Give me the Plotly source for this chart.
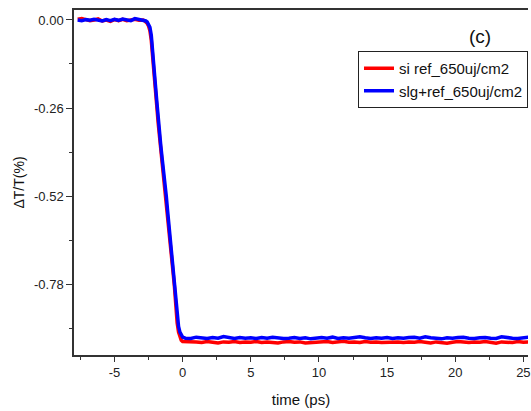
import plotly.graph_objects as go

# time axis (ps)
t_pre = [-7.7, -7.4, -7.1, -6.8, -6.5, -6.2, -5.9, -5.6, -5.3, -5.0,
         -4.7, -4.4, -4.1, -3.8, -3.5, -3.2, -3.0]
t_drop = [-2.9, -2.8, -2.7, -2.6, -2.5, -2.4, -2.3, -2.2, -2.1, -2.0,
          -1.9, -1.8, -1.7, -1.6, -1.5, -1.4, -1.3, -1.2, -1.1, -1.0,
          -0.9, -0.8, -0.7, -0.6, -0.5, -0.4, -0.3, -0.2, -0.1, 0.0]
t_plat = [0.2, 0.6, 1.0, 1.4, 1.8, 2.2, 2.6, 3.0, 3.4, 3.8,
          4.2, 4.6, 5.0, 5.4, 5.8, 6.2, 6.6, 7.0, 7.4, 7.8,
          8.2, 8.6, 9.0, 9.4, 9.8, 10.2, 10.6, 11.0, 11.4, 11.8,
          12.2, 12.6, 13.0, 13.4, 13.8, 14.2, 14.6, 15.0, 15.4, 15.8,
          16.2, 16.6, 17.0, 17.4, 17.8, 18.2, 18.6, 19.0, 19.4, 19.8,
          20.2, 20.6, 21.0, 21.4, 21.8, 22.2, 22.6, 23.0, 23.4, 23.8,
          24.2, 24.6, 25.0, 25.4, 25.8]

# si ref_650uj/cm2 (red)
si_pre = [0.002, 0.004, 0.001, -0.002, 0.000, 0.003, -0.003, 0.000, -0.004, 0.001,
          -0.002, 0.002, -0.002, 0.000, 0.002, -0.001, 0.000]
si_drop = [0.000, -0.002, -0.005, -0.010, -0.018, -0.032, -0.060, -0.102, -0.155, -0.205,
           -0.252, -0.302, -0.345, -0.384, -0.421, -0.455, -0.492, -0.535, -0.580, -0.622,
           -0.664, -0.705, -0.746, -0.788, -0.852, -0.895, -0.922, -0.938, -0.946, -0.950]
si_plat = [-0.950, -0.952, -0.951, -0.953, -0.950, -0.952, -0.954, -0.951, -0.952, -0.950,
           -0.953, -0.951, -0.952, -0.950, -0.953, -0.951, -0.952, -0.954, -0.951, -0.950,
           -0.952, -0.951, -0.954, -0.953, -0.951, -0.952, -0.950, -0.953, -0.951, -0.949,
           -0.952, -0.951, -0.953, -0.950, -0.952, -0.951, -0.953, -0.952, -0.950, -0.951,
           -0.953, -0.951, -0.952, -0.950, -0.952, -0.954, -0.951, -0.952, -0.955, -0.952,
           -0.950, -0.951, -0.953, -0.951, -0.952, -0.950, -0.953, -0.955, -0.951, -0.952,
           -0.953, -0.950, -0.952, -0.951, -0.953]

# slg+ref_650uj/cm2 (blue)
slg_pre = [0.000, -0.002, 0.001, -0.001, 0.002, 0.000, -0.003, 0.001, -0.002, 0.002,
           -0.001, 0.003, 0.000, -0.002, 0.004, 0.001, 0.000]
slg_drop = [0.000, -0.001, -0.003, -0.006, -0.012, -0.022, -0.045, -0.085, -0.138, -0.190,
            -0.238, -0.290, -0.333, -0.372, -0.410, -0.443, -0.478, -0.520, -0.565, -0.607,
            -0.650, -0.690, -0.730, -0.770, -0.833, -0.876, -0.905, -0.922, -0.932, -0.937]
slg_plat = [-0.940, -0.941, -0.937, -0.939, -0.941, -0.938, -0.940, -0.935, -0.939, -0.941,
            -0.938, -0.940, -0.939, -0.941, -0.938, -0.940, -0.937, -0.939, -0.941, -0.940,
            -0.938, -0.941, -0.939, -0.942, -0.940, -0.938, -0.940, -0.937, -0.941, -0.939,
            -0.940, -0.938, -0.936, -0.939, -0.941, -0.939, -0.940, -0.938, -0.941, -0.939,
            -0.940, -0.938, -0.937, -0.940, -0.936, -0.939, -0.941, -0.942, -0.939, -0.940,
            -0.938, -0.937, -0.940, -0.941, -0.939, -0.938, -0.940, -0.941, -0.936, -0.939,
            -0.940, -0.941, -0.939, -0.937, -0.940]

y_ticks = [0.0, -0.26, -0.52, -0.78]
y_tick_text = ["0.00", "-0.26", "-0.52", "-0.78"]
x_ticks = [-5, 0, 5, 10, 15, 20, 25]
x_tick_text = ["-5", "0", "5", "10", "15", "20", "25"]

t = t_pre + t_drop + t_plat
si = si_pre + si_drop + si_plat
slg = slg_pre + slg_drop + slg_plat

FONT = "Liberation Sans, Arial, sans-serif"

W, H = 531, 411
ml, mr, mt, mb = 74, 0, 10, 56
pw, ph = W - ml - mr, H - mt - mb

fig = go.Figure()
fig.add_trace(go.Scatter(x=t, y=si, mode="lines", name="si ref_650uj/cm2",
                         line=dict(color="#ff0000", width=3.5)))
fig.add_trace(go.Scatter(x=t, y=slg, mode="lines", name="slg+ref_650uj/cm2",
                         line=dict(color="#0000ff", width=3.5)))

fig.add_annotation(text="(c)", x=(483 - ml) / pw, y=(H - mb - 36) / ph,
                   xref="paper", yref="paper", xanchor="center", yanchor="middle",
                   showarrow=False, font=dict(family=FONT, size=19, color="#111"))

fig.update_layout(
    width=W, height=H,
    margin=dict(l=ml, r=mr, t=mt, b=mb, pad=0),
    paper_bgcolor="white", plot_bgcolor="white",
    font=dict(family=FONT, size=13, color="#222"),
    showlegend=True,
    legend=dict(x=1, xanchor="right", y=(H - mb - 51) / ph, yanchor="top",
                bgcolor="white", bordercolor="#222", borderwidth=1,
                font=dict(family=FONT, size=15, color="#111"),
                tracegroupgap=0),
    xaxis=dict(range=[-7.97, 25.34], tickmode="array", tickvals=x_ticks, ticktext=x_tick_text,
               ticks="outside", ticklen=5, tickwidth=1.2, tickcolor="#333",
               showline=True, linecolor="#333", linewidth=1.5, mirror=True,
               showgrid=False, zeroline=False, ticklabeloverflow="allow",
               minor=dict(dtick=2.5, tick0=0, ticks="outside", ticklen=3, tickcolor="#333", showgrid=False),
               title=dict(text="time (ps)", font=dict(family=FONT, size=15, color="#111"), standoff=15),
               tickfont=dict(family=FONT, size=13, color="#222")),
    yaxis=dict(range=[-0.9897, 0.0295], tickmode="array", tickvals=y_ticks, ticktext=y_tick_text,
               ticks="outside", ticklen=6, tickwidth=1.2, tickcolor="#333",
               showline=True, linecolor="#333", linewidth=1.5, mirror=False,
               showgrid=False, zeroline=False,
               minor=dict(dtick=0.13, tick0=0, ticks="outside", ticklen=3, tickcolor="#333", showgrid=False),
               title=dict(text="ΔT/T(%)", font=dict(family=FONT, size=14, color="#111"), standoff=6),
               tickfont=dict(family=FONT, size=13, color="#222")),
)

fig.write_html("out.html")
